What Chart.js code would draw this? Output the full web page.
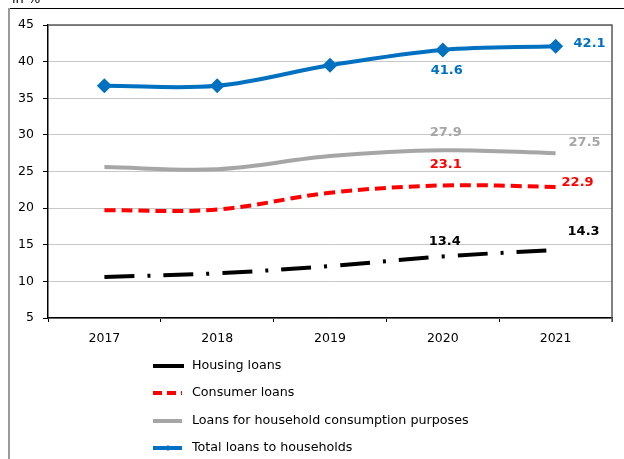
<!DOCTYPE html>
<html>
<head>
<meta charset="utf-8">
<script src="https://cdn.jsdelivr.net/npm/chart.js@4"></script>
<style>
  html, body { margin: 0; padding: 0; background: #fff; }
</style>
</head>
<body>
<canvas id="chart" width="624" height="459"></canvas>
<script>
const years = ['2017', '2018', '2019', '2020', '2021'];
const housingLoans = [10.6, 11.1, 12.1, 13.4, 14.3];
const consumerLoans = [19.7, 19.8, 22.1, 23.1, 22.9];
const consumptionLoans = [25.6, 25.3, 27.1, 27.9, 27.5];
const totalLoans = [36.7, 36.7, 39.5, 41.6, 42.1];
const seriesNames = ['Housing loans', 'Consumer loans', 'Loans for household consumption purposes', 'Total loans to households'];
const yMin = 5, yMax = 45, yStep = 5;
const unitLabel = 'in %';

const FONT = '"DejaVu Sans", Verdana, sans-serif';

// offsets of the value labels (2020, 2021) from their points
const labelOffsets = [
    [[2, -15], [28, -18]],
    [[3, -21], [22, -4]],
    [[3, -18], [29, -11]],
    [[4, 21], [34, -3]]
];

const framePlugin = {
    id: 'frame',
    beforeDraw(chart) {
        const ctx = chart.ctx;
        ctx.save();
        ctx.fillStyle = '#000';
        ctx.font = '13px ' + FONT;
        ctx.textBaseline = 'alphabetic';
        ctx.fillText(unitLabel, 12, 3);
        ctx.lineWidth = 1;
        ctx.strokeStyle = '#000';
        ctx.beginPath();
        ctx.moveTo(8, 8.5);
        ctx.lineTo(624, 8.5);
        ctx.stroke();
        ctx.strokeStyle = '#9a9a9a';
        ctx.lineWidth = 2;
        ctx.beginPath();
        ctx.moveTo(9, 8);
        ctx.lineTo(9, 459);
        ctx.stroke();
        ctx.restore();
    },
    beforeDatasetsDraw(chart) {
        const a = chart.chartArea;
        const ctx = chart.ctx;
        ctx.save();
        ctx.strokeStyle = '#595959';
        ctx.lineWidth = 1.5;
        ctx.beginPath();
        ctx.moveTo(a.left, a.top);
        ctx.lineTo(a.right, a.top);
        ctx.lineTo(a.right, a.bottom + 4);
        ctx.stroke();
        ctx.restore();
    }
};

const valueLabelPlugin = {
    id: 'valueLabels',
    afterDatasetsDraw(chart) {
        const ctx = chart.ctx;
        ctx.save();
        ctx.font = 'bold 13px ' + FONT;
        ctx.textAlign = 'center';
        ctx.textBaseline = 'middle';
        chart.data.datasets.forEach((ds, i) => {
            const meta = chart.getDatasetMeta(i);
            [3, 4].forEach((idx, k) => {
                const p = meta.data[idx];
                const off = labelOffsets[i][k];
                ctx.fillStyle = ds.labelColor;
                ctx.fillText(ds.data[idx].toFixed(1), p.x + off[0], p.y + off[1]);
            });
        });
        ctx.restore();
    }
};

const legendPlugin = {
    id: 'listLegend',
    afterDraw(chart) {
        const ctx = chart.ctx;
        const rows = [366, 393, 421, 448];
        ctx.save();
        chart.data.datasets.forEach((ds, i) => {
            const y = rows[i];
            ctx.strokeStyle = ds.borderColor;
            ctx.lineWidth = 4;
            ctx.setLineDash(ds.legendDash || []);
            ctx.beginPath();
            ctx.moveTo(153, y);
            ctx.lineTo(i === 0 ? 184 : 182, y);
            ctx.stroke();
            ctx.setLineDash([]);
            if (ds.pointRadius > 0) {
                ctx.fillStyle = ds.borderColor;
                ctx.beginPath();
                ctx.moveTo(168, y - 3);
                ctx.lineTo(171, y);
                ctx.lineTo(168, y + 3);
                ctx.lineTo(165, y);
                ctx.closePath();
                ctx.fill();
            }
            ctx.fillStyle = '#000';
            ctx.font = '12.7px ' + FONT;
            ctx.textBaseline = 'middle';
            ctx.fillText(seriesNames[i], 192, y);
        });
        ctx.restore();
    }
};

new Chart(document.getElementById('chart'), {
    type: 'line',
    data: {
        labels: years,
        datasets: [
            {
                label: seriesNames[0],
                data: housingLoans,
                borderColor: '#000000',
                labelColor: '#000000',
                borderWidth: 4,
                borderDash: [30, 13, 3, 13],
                legendDash: [],
                pointRadius: 0,
                tension: 0.35
            },
            {
                label: seriesNames[1],
                data: consumerLoans,
                borderColor: '#ff0000',
                labelColor: '#ff0000',
                borderWidth: 4,
                borderDash: [11, 6],
                legendDash: [9, 5],
                pointRadius: 0,
                tension: 0.35
            },
            {
                label: seriesNames[2],
                data: consumptionLoans,
                borderColor: '#a6a6a6',
                labelColor: '#a6a6a6',
                borderWidth: 4,
                pointRadius: 0,
                tension: 0.35
            },
            {
                label: seriesNames[3],
                data: totalLoans,
                borderColor: '#0070c0',
                labelColor: '#0070c0',
                backgroundColor: '#0070c0',
                borderWidth: 4,
                pointStyle: 'rectRot',
                pointRadius: 7.5,
                pointBorderWidth: 0,
                pointBackgroundColor: '#0070c0',
                tension: 0.35
            }
        ]
    },
    options: {
        responsive: false,
        animation: false,
        layout: { padding: { left: 0, top: 25, right: 12, bottom: 111 } },
        plugins: {
            legend: { display: false },
            tooltip: { enabled: false }
        },
        scales: {
            x: {
                offset: true,
                grid: {
                    offset: true,
                    drawOnChartArea: false,
                    tickLength: 4,
                    tickColor: '#000'
                },
                border: { color: '#000', width: 1.5 },
                ticks: {
                    color: '#000',
                    padding: 9,
                    font: { family: FONT, size: 12.5 }
                },
                afterFit(scale) { scale.height = 30; }
            },
            y: {
                min: yMin,
                max: yMax,
                grid: {
                    color: '#c8c8c8',
                    tickLength: 5,
                    tickColor: '#000'
                },
                border: { color: '#000', width: 1.5 },
                ticks: {
                    stepSize: yStep,
                    color: '#000',
                    padding: 9,
                    font: { family: FONT, size: 12.5 }
                },
                afterFit(scale) { scale.width = 48; }
            }
        }
    },
    plugins: [framePlugin, valueLabelPlugin, legendPlugin]
});
</script>
</body>
</html>
